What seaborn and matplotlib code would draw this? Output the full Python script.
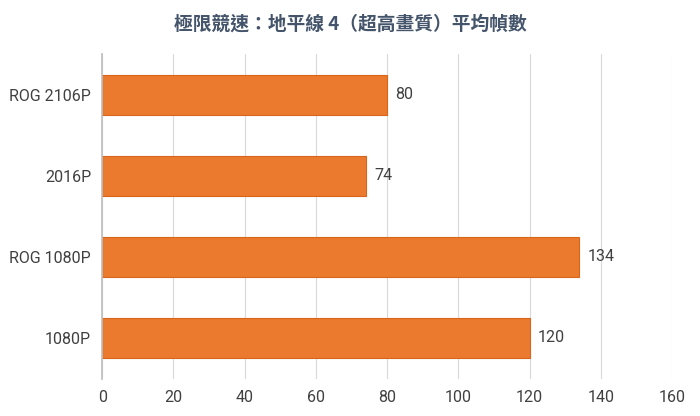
import matplotlib
matplotlib.use("Agg")
import matplotlib.pyplot as plt
import seaborn as sns
import pandas as pd

categories = ["ROG 2106P", "2016P", "ROG 1080P", "1080P"]
values = [80, 74, 134, 120]
xticks = [0, 20, 40, 60, 80, 100, 120, 140, 160]

sns.set_theme(style="white")
plt.rcParams['font.family'] = ['Roboto', 'Noto Sans CJK TC', 'DejaVu Sans']

df = pd.DataFrame({"cat": categories, "val": values})
fig = plt.figure(figsize=(7, 4.16), dpi=100)
ax = fig.add_axes([0.146, 0.09, 0.814, 0.78])
sns.barplot(data=df, x="val", y="cat", color="#EC7A2E", width=0.49, ax=ax,
            saturation=1, edgecolor="#D9651A", linewidth=0.8)
ax.set_xlim(0, 160)
ax.set_xticks(xticks)
ax.set_xlabel(""); ax.set_ylabel("")
ax.grid(axis="x", color="#D9D9D9", linewidth=0.8)
ax.set_axisbelow(True)
for s in ["top", "right", "bottom"]:
    ax.spines[s].set_visible(False)
ax.spines["left"].set_color("#BFBFBF")
ax.tick_params(axis="both", length=0, labelsize=11.5, colors="#404040", pad=8)
for c in ax.containers:
    ax.bar_label(c, labels=[str(v) for v in values], padding=6, fontsize=11.5, color="#404040")
fig.suptitle("極限競速：地平線 4（超高畫質）平均幀數", x=0.5, y=0.965,
             fontsize=13.5, color="#44546A", fontweight="bold",
             family=['Noto Sans CJK TC', 'DejaVu Sans'])
fig.savefig("out.png", dpi=100)
